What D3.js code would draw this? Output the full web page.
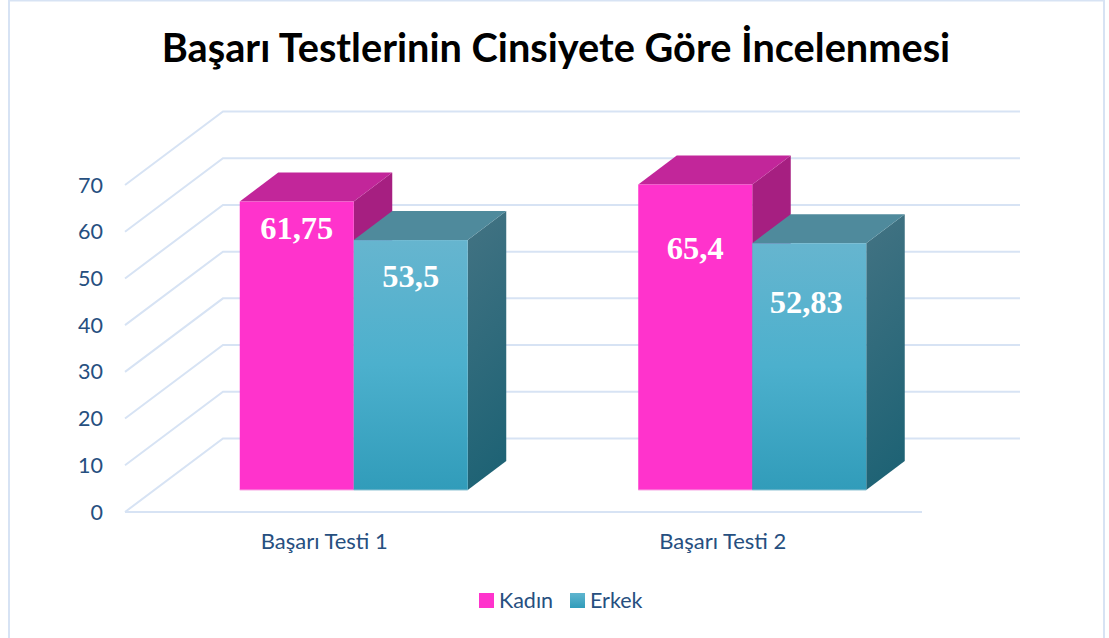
<!DOCTYPE html>
<html>
<head>
<meta charset="utf-8">
<script src="https://cdn.jsdelivr.net/npm/d3@7"></script>
<style>
  html, body { margin: 0; padding: 0; background: #fff; overflow: hidden; }
  text { font-family: Lato, "Open Sans", sans-serif; }
</style>
</head>
<body>
<svg id="chart" width="1109" height="638"></svg>
<script>
const titleText = 'Başarı Testlerinin Cinsiyete Göre İncelenmesi';
const categories = ['Başarı Testi 1', 'Başarı Testi 2'];
const seriesNames = ['Kadın', 'Erkek'];
const kadinValues = [61.75, 65.4];
const erkekValues = [53.5, 52.83];
const kadinLabels = ['61,75', '65,4'];
const erkekLabels = ['53,5', '52,83'];
const yTicks = [0, 10, 20, 30, 40, 50, 60, 70];

const WIDTH = 1109;
const HEIGHT = 638;
const DEPTH = {x: 98, y: -73.5};
const BAR_DEPTH = {x: 38.5, y: -29};
const BAR_SHIFT = {x: 29.5, y: -22};
const BAR_WIDTH = 114;
const LINE_COLOR = '#d7e3f4';
const TEXT_COLOR = '#264f80';

// The data labels were dragged by hand in the original, so they sit at uneven distances
const labelDrop = [[37, 75], [47, 70]];
const labelNudge = [[0, 0], [0, -3]];

const svg = d3.select('#chart');

const x = d3.scaleBand().domain(categories).range([125, 922]);
const y = d3.scaleLinear().domain([0, 70]).range([512, 185]);

// Gradients for the Erkek bar
const defs = svg.append('defs');
const frontGradient = defs.append('linearGradient')
  .attr('id', 'erkek-front').attr('x1', 0).attr('y1', 0).attr('x2', 0).attr('y2', 1);
frontGradient.append('stop').attr('offset', 0).attr('stop-color', '#66b5cf');
frontGradient.append('stop').attr('offset', 0.5).attr('stop-color', '#4cb0cd');
frontGradient.append('stop').attr('offset', 1).attr('stop-color', '#319cba');
const sideGradient = defs.append('linearGradient')
  .attr('id', 'erkek-side').attr('x1', 0).attr('y1', 0).attr('x2', 0.15).attr('y2', 1);
sideGradient.append('stop').attr('offset', 0).attr('stop-color', '#437383');
sideGradient.append('stop').attr('offset', 1).attr('stop-color', '#1f6375');
const legendGradient = defs.append('linearGradient')
  .attr('id', 'erkek-legend').attr('x1', 0).attr('y1', 0).attr('x2', 0).attr('y2', 1);
legendGradient.append('stop').attr('offset', 0).attr('stop-color', '#5fb5cf');
legendGradient.append('stop').attr('offset', 1).attr('stop-color', '#319cba');

const palettes = [
  {front: '#ff33cc', top: '#c2269a', side: '#a61f81', edge: '#f7a8e4', legend: '#ff33cc'},
  {front: 'url(#erkek-front)', top: '#4f8a9c', side: 'url(#erkek-side)', edge: '#8fc3d4', legend: 'url(#erkek-legend)'}
];

// Outer frame, it runs off the bottom of the picture
svg.append('rect')
  .attr('x', 9).attr('y', 0.5)
  .attr('width', 1095).attr('height', HEIGHT + 10)
  .attr('fill', 'none')
  .attr('stroke', LINE_COLOR)
  .attr('stroke-width', 2);

svg.append('text')
  .attr('x', 556).attr('y', 62)
  .attr('text-anchor', 'middle')
  .attr('font-size', 39.7)
  .attr('font-weight', 700)
  .attr('fill', '#000')
  .text(titleText);

// Gridlines: side wall diagonal plus back wall line
const grid = svg.append('g')
  .attr('fill', 'none')
  .attr('stroke', LINE_COLOR)
  .attr('stroke-width', 2);
for (const tick of yTicks) {
  const left = x.range()[0];
  const right = x.range()[1];
  grid.append('path').attr('d', d3.line()([
    [left, y(tick)],
    [left + DEPTH.x, y(tick) + DEPTH.y],
    [right + DEPTH.x, y(tick) + DEPTH.y]
  ]));
}
grid.append('path').attr('d', d3.line()([
  [x.range()[0], y(0)],
  [x.range()[1], y(0)]
]));

// Value axis
svg.append('g')
  .selectAll('text')
  .data(yTicks)
  .join('text')
  .attr('x', 103)
  .attr('y', d => y(d) + 7.5)
  .attr('text-anchor', 'end')
  .attr('font-size', 21.5)
  .attr('fill', TEXT_COLOR)
  .text(d => d);

// Category axis
svg.append('g')
  .selectAll('text')
  .data(categories)
  .join('text')
  .attr('x', d => x(d) + x.bandwidth() / 2)
  .attr('y', 549)
  .attr('text-anchor', 'middle')
  .attr('font-size', 22)
  .attr('fill', TEXT_COLOR)
  .text(d => d);

function drawBar(parent, left, value, colors) {
  const right = left + BAR_WIDTH;
  const base = y(0) + BAR_SHIFT.y;
  const top = y(value) + BAR_SHIFT.y;
  const dx = BAR_DEPTH.x;
  const dy = BAR_DEPTH.y;
  const g = parent.append('g');
  g.append('path')
    .attr('fill', colors.side)
    .attr('d', d3.line()([[right, top], [right + dx, top + dy], [right + dx, base + dy], [right, base]]) + 'Z');
  g.append('path')
    .attr('fill', colors.top)
    .attr('d', d3.line()([[left, top], [left + dx, top + dy], [right + dx, top + dy], [right, top]]) + 'Z');
  g.append('rect')
    .attr('x', left).attr('y', top)
    .attr('width', BAR_WIDTH).attr('height', base - top)
    .attr('fill', colors.front);
  g.append('path')
    .attr('fill', 'none')
    .attr('stroke', colors.edge)
    .attr('stroke-width', 1)
    .attr('d', d3.line()([[left, base], [right, base]]));
}

const bars = svg.append('g');
const seriesValues = [kadinValues, erkekValues];
const seriesLabels = [kadinLabels, erkekLabels];
categories.forEach((category, i) => {
  const center = x(category) + x.bandwidth() / 2 + BAR_SHIFT.x;
  seriesValues.forEach((values, s) => {
    const left = center - BAR_WIDTH + s * BAR_WIDTH;
    drawBar(bars, left, values[i], palettes[s]);
  });
});

// Data labels
categories.forEach((category, i) => {
  const center = x(category) + x.bandwidth() / 2 + BAR_SHIFT.x;
  seriesValues.forEach((values, s) => {
    svg.append('text')
      .attr('x', center - BAR_WIDTH / 2 + s * BAR_WIDTH + labelNudge[s][i])
      .attr('y', y(values[i]) + BAR_SHIFT.y + labelDrop[s][i])
      .attr('text-anchor', 'middle')
      .attr('font-size', 32.5)
      .attr('font-weight', 700)
      .style('font-family', '"Liberation Serif", serif')
      .attr('fill', '#fff')
      .text(seriesLabels[s][i]);
  });
});

// Legend
const legendX = [479, 570];
const legend = svg.append('g');
seriesNames.forEach((name, s) => {
  legend.append('rect')
    .attr('x', legendX[s]).attr('y', 593)
    .attr('width', 15).attr('height', 15)
    .attr('fill', palettes[s].legend);
  legend.append('text')
    .attr('x', legendX[s] + 20).attr('y', 608)
    .attr('font-size', 21.5)
    .attr('fill', TEXT_COLOR)
    .text(name);
});
</script>
</body>
</html>
